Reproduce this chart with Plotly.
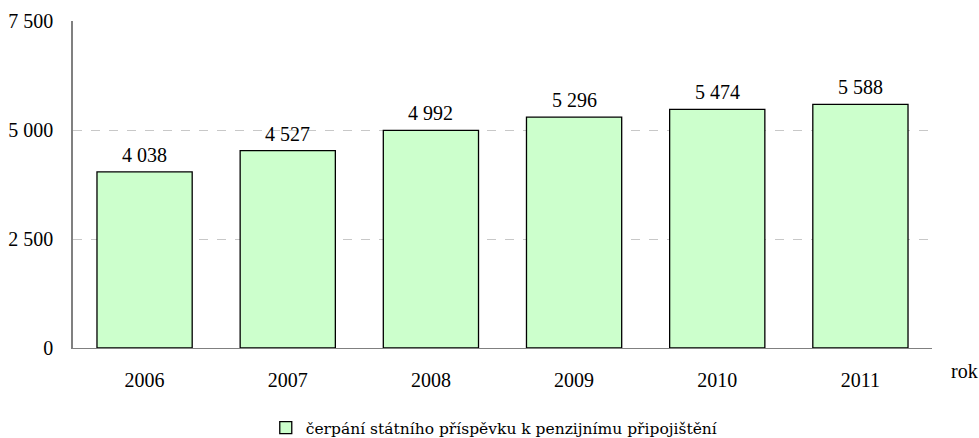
import plotly.graph_objects as go

years = ["2006", "2007", "2008", "2009", "2010", "2011"]
values = [4038, 4527, 4992, 5296, 5474, 5588]
series_name = "čerpání státního příspěvku k penzijnímu připojištění"
y_ticks = [0, 2500, 5000, 7500]

FONT = "Liberation Serif"
SZ = 20

fig = go.Figure()
fig.add_trace(go.Bar(
    x=years, y=values, name=series_name,
    marker=dict(color="#CCFFCC", line=dict(color="black", width=1.3)),
    cliponaxis=False,
))

# value labels above bars; on a category axis annotations use the category serial number
value_labels = [dict(x=i, y=v, xref="x", yref="y", text=f"{v:,}".replace(",", " "),
                     showarrow=False, yanchor="bottom", yshift=4,
                     font=dict(family=FONT, size=SZ, color="black"))
                for i, v in enumerate(values)]

fig.update_layout(
    width=979, height=438,
    margin=dict(l=73, r=47, t=21, b=90, autoexpand=False),
    paper_bgcolor="white", plot_bgcolor="white",
    separators=", ",
    bargap=0.335,
    font=dict(family=FONT, size=SZ, color="black"),
    showlegend=True,
    legend=dict(orientation="h", x=0.491, xanchor="center", y=-0.245, yanchor="middle",
                font=dict(family="DejaVu Serif", size=15.5, color="black"),
                itemwidth=30),
    xaxis=dict(type="category", categoryorder="array", categoryarray=years,
               range=[-0.5, len(years) - 0.5],
               showline=True, linecolor="#808080", linewidth=1, ticks="",
               ticklabelstandoff=14, tickfont=dict(family=FONT, size=SZ)),
    yaxis=dict(range=[0, 7500], tickvals=y_ticks, tickformat=",",
               showline=True, linecolor="#808080", linewidth=1.5,
               showgrid=True, gridcolor="#C8C8C8", griddash="dash", gridwidth=1,
               zeroline=False, ticks="", ticklabelstandoff=14,
               tickfont=dict(family=FONT, size=SZ)),
    annotations=value_labels + [dict(text="rok", xref="paper", yref="paper", x=1.038, y=-0.07,
                      xanchor="center", yanchor="middle", showarrow=False,
                      font=dict(family=FONT, size=SZ, color="black"))],
)

fig.write_html("out.html", config={"displayModeBar": False},
               post_script="document.body.style.margin='0';document.body.style.overflow='hidden';")
